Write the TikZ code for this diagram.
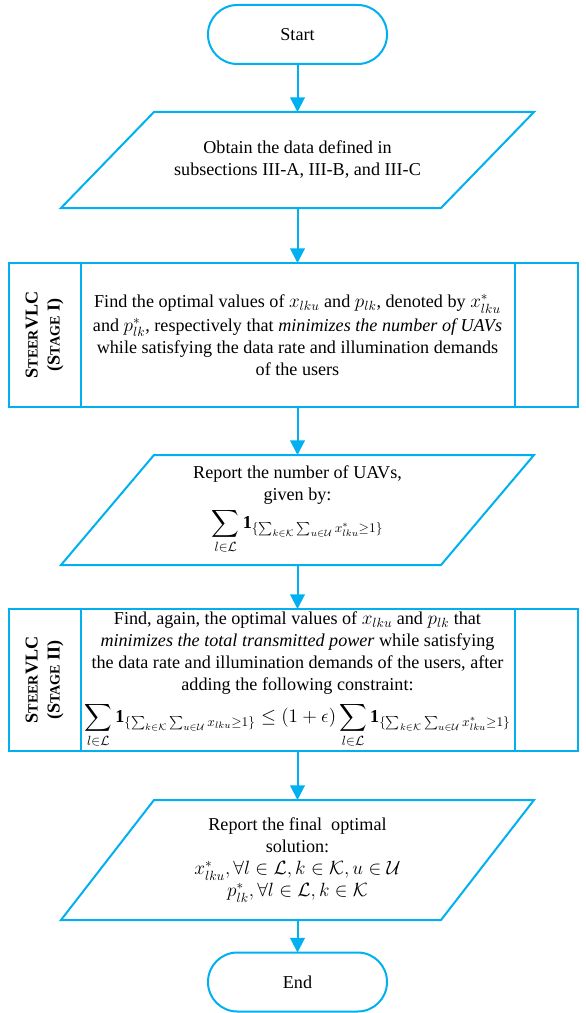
\documentclass[tikz,border=0pt]{standalone}
\usepackage{amsmath}
\usepackage{fontspec}
\setmainfont{Liberation Serif}
\usetikzlibrary{arrows.meta,positioning}
\definecolor{flowblue}{RGB}{0,176,240}
\def\px{0.75pt}
\newcommand{\flowfont}{\fontsize{13.6}{16.5}\selectfont}
\newcommand{\smcap}[1]{{\fontsize{10.6}{12}\selectfont #1}}
\newcommand{\indic}[1]{\mathbf{1}_{\{\sum_{k\in\mathcal{K}}\sum_{u\in\mathcal{U}}#1\geq 1\}}}

\begin{document}
\begin{tikzpicture}[x=0.75pt, y=-0.75pt,
    flowline/.style={draw=flowblue, line width=1.5pt},
    arrow/.style={flowline, -{Triangle[width=11pt,length=11pt]}},
    term/.style={flowline, rounded corners=22pt, minimum width=179*\px, minimum height=59*\px, outer sep=0pt, font=\flowfont},
    io/.style={minimum width=473*\px, inner sep=0pt, outer sep=0pt, align=center, font=\flowfont},
    stagebox/.style={flowline, minimum width=434*\px, inner sep=0pt, outer sep=0pt, align=center, font=\flowfont},
    stagelabel/.style={flowline, rotate=90, minimum height=72*\px, inner sep=0pt, outer sep=0pt, align=center, font=\flowfont\bfseries}]
    \useasboundingbox (0,0) rectangle (585,1013);
    % Start
    \node[term] (start) at (297.5,34.5) {Start};
    % Input data
    \node[io, minimum height=96*\px] (obtain) at (297.5,160) {Obtain the data defined in\\subsections III-A, III-B, and III-C};
    % Stage I
    \node[stagebox, minimum height=144*\px] (stageone) at (297.5,335) {Find the optimal values of $x_{lku}$ and $p_{lk}$, denoted by $x^*_{lku}$\\[1pt]and $p^*_{lk}$, respectively that \textit{minimizes the number of UAVs}\\while satisfying the data rate and illumination demands\\of the users};
    \node[stagelabel, minimum width=144*\px] (labelone) at (44.5,335) {S\smcap{TEER}VLC\\(S\smcap{TAGE} I)};
    \node[stagebox, minimum width=63*\px, minimum height=144*\px, right=0pt of stageone] (padone) {};
    % Number of UAVs
    \node[io, minimum height=110*\px] (report) at (297.5,510) {Report the number of UAVs,\\given by:\\[2pt]$\displaystyle\sum_{l\in\mathcal{L}}\indic{x^*_{lku}}$};
    % Stage II
    \node[stagebox, minimum height=142*\px] (stagetwo) at (297.5,680) {Find, again, the optimal values of $x_{lku}$ and $p_{lk}$ that\\\textit{minimizes the total transmitted power} while satisfying\\the data rate and illumination demands of the users, after\\adding the following constraint:\\[5pt]$\displaystyle\sum_{l\in\mathcal{L}}\indic{x_{lku}}\leq(1+\epsilon)\sum_{l\in\mathcal{L}}\indic{x^*_{lku}}$};
    \node[stagelabel, minimum width=142*\px] (labeltwo) at (44.5,680) {S\smcap{TEER}VLC\\(S\smcap{TAGE} II)};
    \node[stagebox, minimum width=63*\px, minimum height=142*\px, right=0pt of stagetwo] (padtwo) {};
    % Final solution
    \node[io, minimum height=120*\px] (final) at (297.5,860) {Report the final\ \ optimal\\solution:\\$x^*_{lku},\forall l\in\mathcal{L},k\in\mathcal{K},u\in\mathcal{U}$\\$p^*_{lk},\forall l\in\mathcal{L},k\in\mathcal{K}$};
    % End
    \node[term] (stop) at (297.5,982) {End};
    % Parallelogram outlines
    \draw[flowline] ([xshift=93*\px]obtain.north west) -- (obtain.north east) -- ([xshift=-93*\px]obtain.south east) -- (obtain.south west) -- cycle;
    \draw[flowline] ([xshift=93*\px]report.north west) -- (report.north east) -- ([xshift=-93*\px]report.south east) -- (report.south west) -- cycle;
    \draw[flowline] ([xshift=93*\px]final.north west) -- (final.north east) -- ([xshift=-93*\px]final.south east) -- (final.south west) -- cycle;
    % Flow
    \draw[arrow] (start) -- (obtain);
    \draw[arrow] (obtain) -- (stageone);
    \draw[arrow] (stageone) -- (report);
    \draw[arrow] (report) -- (stagetwo);
    \draw[arrow] (stagetwo) -- (final);
    \draw[arrow] (final) -- (stop);
\end{tikzpicture}
\end{document}
